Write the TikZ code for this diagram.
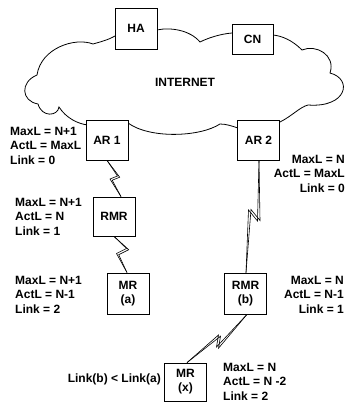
\documentclass[tikz,border=0pt]{standalone}
\usepackage{fontspec}
\setmainfont{Liberation Sans}
\usetikzlibrary{calc}

\tikzset{
  lbl/.style={font=\bfseries\fontsize{12}{14.5}\selectfont, inner sep=0pt},
  box/.style={draw, line width=0.8pt, fill=white, minimum width=42, minimum height=40,
              inner sep=0pt, align=center, font=\bfseries\fontsize{12}{14}\selectfont},
  bolt/.style={line width=0.6pt, line join=miter},
  cloudline/.style={line width=0.8pt}
}

\begin{document}
\begin{tikzpicture}[x=1pt, y=-1pt]
\useasboundingbox (0,0) rectangle (347,403);

% Internet cloud (drawn first, boxes sit on top of its outline)
\draw[cloudline] (115,36)
  .. controls (108,40) and (100,42) .. (93,44)
  .. controls (75,37) and (41,48) .. (37,75)
  .. controls (20,82) and (21,101) .. (38,104)
  .. controls (42,118) and (58,116) .. (59,107)
  .. controls (66,118) and (78,124) .. (88,125)
  -- (128,123)
  .. controls (150,139) and (200,137) .. (220,124)
  .. controls (226,124) and (232,126) .. (238,128)
  -- (280,122)
  .. controls (292,116) and (300,107) .. (308,105)
  .. controls (347,108) and (353,79) .. (330,73)
  .. controls (336,55) and (316,44) .. (302,50)
  .. controls (292,40) and (282,36) .. (273,35)
  -- (232,33)
  .. controls (220,34) and (208,38) .. (200,42)
  .. controls (190,30) and (170,27) .. (157,30)
  -- cycle;
\node[lbl] (inet) at (185,82) {INTERNET};

% Boxes
\node[box, minimum height=41] (ha) at (136,28.5) {HA};
\node[box, minimum width=41, minimum height=30] (cn) at (252.5,39) {CN};
\node[box] (ar1) at (107,140) {AR 1};
\node[box] (ar2) at (258.5,140) {AR 2};
\node[box, minimum height=39] (rmr) at (114,216.5) {RMR};
\node[box, minimum height=41] (mra) at (128,293.5) {MR\\(a)};
\node[box, minimum height=41] (rmrb) at (245.5,293.5) {RMR\\(b)};
\node[box, minimum height=38] (mrx) at (185.5,382) {MR\\(x)};

% Radio link end points and kinks
\coordinate (e1) at ([xshift=7]rmr.north);
\coordinate (p1) at (117.5,176);
\coordinate (q1) at (110,179);
\coordinate (e2) at ([xshift=-1]mra.north);
\coordinate (p2) at (126.5,248.5);
\coordinate (q2) at (116.5,253.5);
\coordinate (s3) at ([xshift=0.5]ar2.south);
\coordinate (e3) at ([xshift=0.5]rmrb.north);
\coordinate (p3) at (257.5,221);
\coordinate (q3) at (248.5,210);
\coordinate (s4) at ([xshift=1.5]rmrb.south);
\coordinate (e4) at ([xshift=1.5]mrx.north);
\coordinate (p4) at (216.5,347);
\coordinate (q4) at (218.5,335);

% Lightning-style wireless links
\draw[bolt] (ar1.south) -- (p1) -- (q1) -- (e1);
\draw[bolt] (ar1.south) -- ($(p1)+(2.2,1.2)$) -- ($(q1)+(2.2,1.2)$) -- (e1);
\draw[bolt] (rmr.south) -- (p2) -- (q2) -- (e2);
\draw[bolt] (rmr.south) -- ($(p2)+(2.2,1.2)$) -- ($(q2)+(2.2,1.2)$) -- (e2);
\draw[bolt] (s3) -- (p3) -- (q3) -- (e3);
\draw[bolt] (s3) -- ($(p3)+(2.5,-0.5)$) -- ($(q3)+(2.5,-0.5)$) -- (e3);
\draw[bolt] (s4) -- (p4) -- (q4) -- (e4);
\draw[bolt] (s4) -- ($(p4)+(2,1.2)$) -- ($(q4)+(2,1.2)$) -- (e4);

% Path metrics
\node[lbl, anchor=north west, align=left] (t1) at (10,127) {MaxL = N+1\\ActL = MaxL\\Link = 0};
\node[lbl, anchor=north east, align=right] (t2) at (345,155) {MaxL = N\\ActL = MaxL\\Link = 0};
\node[lbl, anchor=north west, align=left] (t3) at (15,198) {MaxL = N+1\\ActL = N\\Link = 1};
\node[lbl, anchor=north west, align=left] (t4) at (15,276) {MaxL = N+1\\ActL = N-1\\Link = 2};
\node[lbl, anchor=north east, align=right] (t5) at (344,276) {MaxL = N\\ActL = N-1\\Link = 1};
\node[lbl, anchor=north west, align=left] (t6) at (223,363) {MaxL = N\\ActL = N -2\\Link = 2};
\node[lbl, anchor=east] (t7) at (161,379) {Link(b) < Link(a)};
\end{tikzpicture}
\end{document}
